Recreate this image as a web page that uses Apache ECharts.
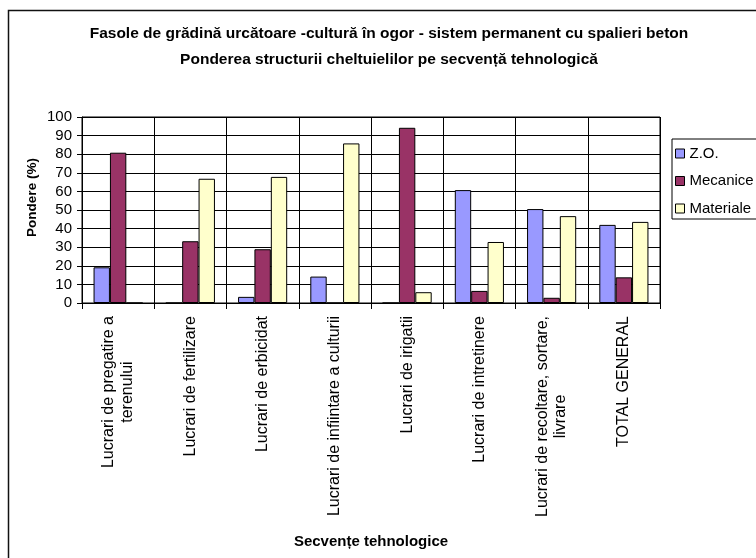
<!DOCTYPE html>
<html>
<head>
<meta charset="utf-8">
<script src="https://cdn.jsdelivr.net/npm/echarts@6/dist/echarts.min.js"></script>
<style>
  html, body { margin: 0; padding: 0; background: #fff; }
  #chart { width: 756px; height: 558px; }
</style>
</head>
<body>
<div id="chart"></div>
<script>
// Sequences of technological works (x-axis categories)
const categories = [
  'Lucrari de pregatire a\nterenului',
  'Lucrari de fertilizare',
  'Lucrari de erbicidat',
  'Lucrari de infiintare a culturii',
  'Lucrari de irigatii',
  'Lucrari de intretinere',
  'Lucrari de recoltare, sortare,\nlivrare',
  'TOTAL GENERAL'
];

// Share of each cost type per sequence (%)
const zoValues        = [19.2, 0,    3.3,  14.2, 0,    60.7, 50.5, 42.0];
const mecaniceValues  = [80.8, 33.2, 28.9, 0,    94.2, 6.5,  2.8,  13.8];
const materialeValues = [0,    66.8, 67.8, 85.8, 5.8,  32.8, 46.7, 43.6];

const seriesNames = ['Z.O.', 'Mecanice', 'Materiale'];
const yTicks = { min: 0, max: 100, step: 10 };

const FONT = "'Liberation Sans', Arial, sans-serif";
const LABEL_SIZE = 16;

// Measure text so that multi-line category labels can have centred lines
const measureCtx = document.createElement('canvas').getContext('2d');
measureCtx.font = LABEL_SIZE + 'px ' + FONT;
function textWidth(s) { return measureCtx.measureText(s).width; }

// One rich style per label line; rotated labels are end-aligned, so shorter
// lines get padding at their end to sit centred in the block
const labelRich = {};
const labelFormatted = {};
categories.forEach(function (cat, ci) {
  const lines = cat.split('\n');
  const widths = lines.map(textWidth);
  const maxW = Math.max.apply(null, widths);
  labelFormatted[cat] = lines.map(function (line, li) {
    const key = 'l' + ci + '_' + li;
    labelRich[key] = {
      fontFamily: FONT, fontSize: LABEL_SIZE, color: '#000', lineHeight: 18.6,
      padding: [0, (maxW - widths[li]) / 2, 0, 0]
    };
    return '{' + key + '|' + line + '}';
  }).join('\n');
});

const chart = echarts.init(document.getElementById('chart'), null, { renderer: 'canvas' });

function barSeries(name, data, color) {
  return {
    name: name,
    type: 'bar',
    data: data,
    barGap: '0%',
    barCategoryGap: '32%',
    itemStyle: { color: color, borderColor: '#000', borderWidth: 1 },
    emphasis: { disabled: true },
    animation: false
  };
}

chart.setOption({
  animation: false,
  textStyle: { fontFamily: FONT, color: '#000' },
  title: {
    text: 'Fasole de grădină urcătoare -cultură în ogor - sistem permanent cu spalieri beton\nPonderea structurii cheltuielilor pe secvență tehnologică',
    left: 389,
    top: 21,
    textAlign: 'center',
    padding: 0,
    textStyle: { fontFamily: FONT, fontSize: 15.5, fontWeight: 'bold', color: '#000', lineHeight: 26 }
  },
  grid: {
    left: 82, right: 96, top: 117, bottom: 255,
    show: true, borderColor: '#000', borderWidth: 1, backgroundColor: 'transparent'
  },
  legend: {
    data: seriesNames,
    orient: 'vertical',
    left: 672,
    top: 139,
    padding: [6, 10, 2, 3],
    itemWidth: 9,
    itemHeight: 9,
    itemGap: 10.5,
    borderColor: '#000',
    borderWidth: 1,
    icon: 'rect',
    itemStyle: { borderColor: '#000', borderWidth: 1 },
    textStyle: { fontFamily: FONT, fontSize: 15, color: '#000', lineHeight: 17 }
  },
  xAxis: {
    type: 'category',
    data: categories,
    boundaryGap: true,
    axisLine: { lineStyle: { color: '#000', width: 1 } },
    axisTick: { show: true, length: 6, lineStyle: { color: '#000' } },
    splitLine: { show: true, lineStyle: { color: '#000', width: 1 } },
    axisLabel: {
      rotate: 90,
      interval: 0,
      margin: 13,
      color: '#000',
      fontFamily: FONT,
      fontSize: LABEL_SIZE,
      formatter: function (v) { return labelFormatted[v]; },
      rich: labelRich
    }
  },
  yAxis: {
    type: 'value',
    min: yTicks.min,
    max: yTicks.max,
    interval: yTicks.step,
    axisLine: { show: true, lineStyle: { color: '#000', width: 1 } },
    axisTick: { show: true, length: 5, lineStyle: { color: '#000' } },
    splitLine: { show: true, lineStyle: { color: '#000', width: 1 } },
    axisLabel: { color: '#000', fontFamily: FONT, fontSize: 15, margin: 10 }
  },
  graphic: [
    {
      type: 'rect',
      shape: { x: 8.5, y: 10.5, width: 780, height: 560 },
      style: { fill: 'none', stroke: '#111', lineWidth: 1.5 },
      silent: true,
      z: -1
    },
    {
      type: 'text',
      x: 32, y: 197.5,
      rotation: Math.PI / 2,
      style: {
        text: 'Pondere (%)',
        fontFamily: FONT, fontSize: 13.5, fontWeight: 'bold', fill: '#000',
        align: 'center', verticalAlign: 'middle'
      }
    },
    {
      type: 'text',
      x: 371, y: 542,
      style: {
        text: 'Secvențe tehnologice',
        fontFamily: FONT, fontSize: 15, fontWeight: 'bold', fill: '#000',
        align: 'center', verticalAlign: 'middle'
      }
    }
  ],
  series: [
    barSeries(seriesNames[0], zoValues, '#9999FF'),
    barSeries(seriesNames[1], mecaniceValues, '#993366'),
    barSeries(seriesNames[2], materialeValues, '#FFFFCC')
  ]
});
</script>
</body>
</html>
